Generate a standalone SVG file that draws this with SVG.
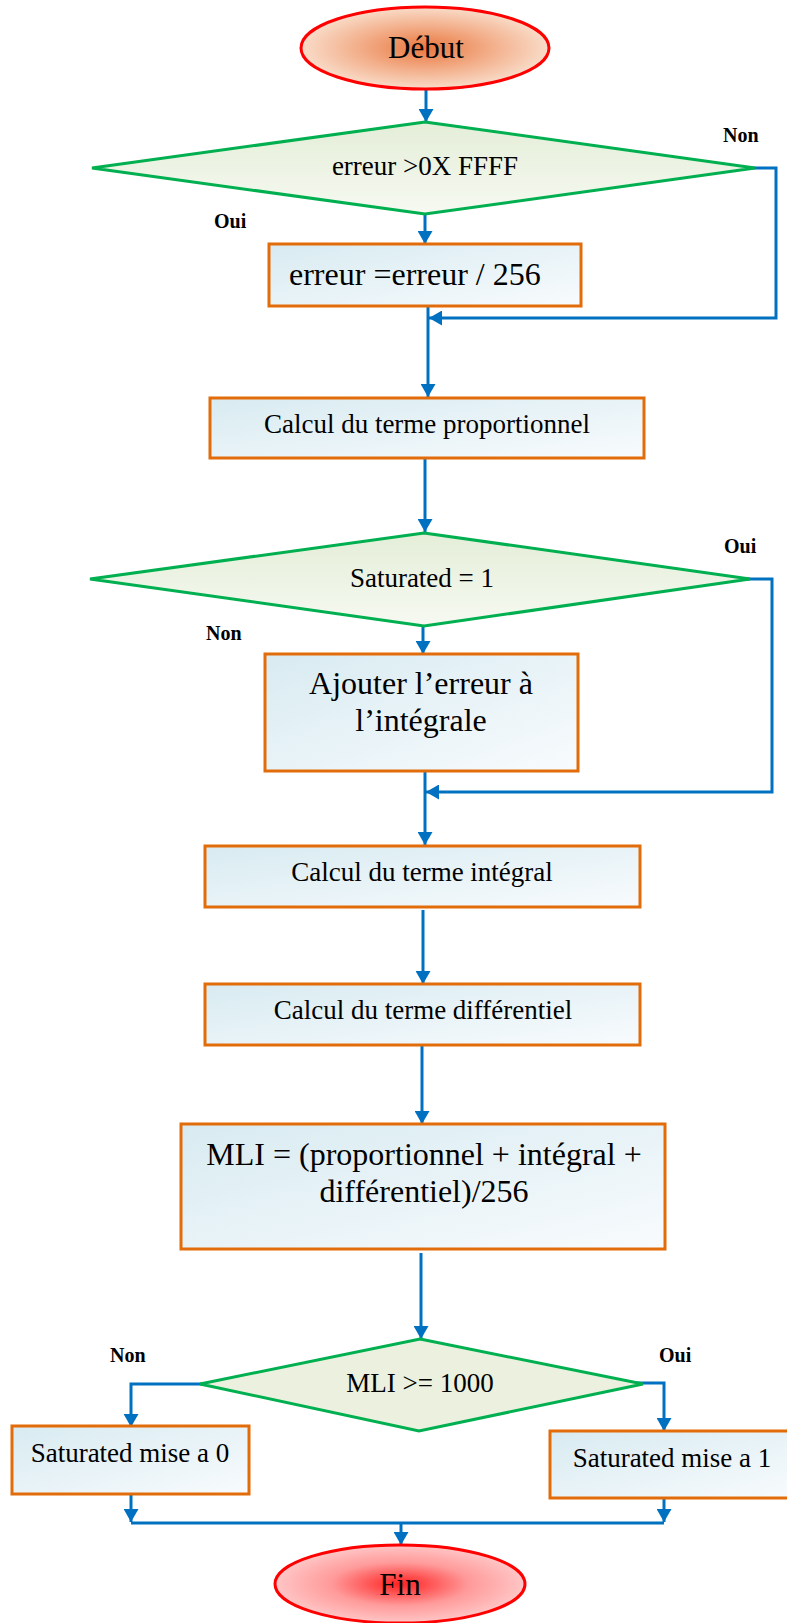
<svg xmlns="http://www.w3.org/2000/svg" width="787" height="1623" viewBox="0 0 787 1623">
  <defs>
    <radialGradient id="gStart" cx="50%" cy="50%" r="50%">
      <stop offset="0" stop-color="#e9773f"/>
      <stop offset="0.55" stop-color="#f3b08c"/>
      <stop offset="1" stop-color="#f9dcc9"/>
    </radialGradient>
    <radialGradient id="gEnd" cx="50%" cy="50%" r="50%">
      <stop offset="0" stop-color="#ff2020"/>
      <stop offset="0.55" stop-color="#ff9a9a"/>
      <stop offset="1" stop-color="#ffc6c6"/>
    </radialGradient>
    <linearGradient id="gBox" x1="0" y1="0" x2="1" y2="1">
      <stop offset="0" stop-color="#d8ebf1"/>
      <stop offset="1" stop-color="#f8fbfd"/>
    </linearGradient>
    <linearGradient id="gDiamond" x1="0" y1="0" x2="0" y2="1">
      <stop offset="0" stop-color="#e4eed8"/>
      <stop offset="1" stop-color="#f6f9f1"/>
    </linearGradient>
    <marker id="arrow" viewBox="0 0 13 15" refX="13" refY="7.5" markerWidth="13" markerHeight="15" orient="auto" markerUnits="userSpaceOnUse">
      <path d="M0,0 L13,7.5 L0,15 z" fill="#0070c0"/>
    </marker>
    <style>
      .term { stroke: #ff0000; stroke-width: 3; }
      .box { fill: url(#gBox); stroke: #e36c0a; stroke-width: 3; }
      .dec { fill: url(#gDiamond); stroke: #00b050; stroke-width: 3; stroke-linejoin: miter; }
      .dec-flat { fill: #ebf1de; stroke: #00b050; stroke-width: 3; }
      .link { fill: none; stroke: #0070c0; stroke-width: 3; }
      .arr { marker-end: url(#arrow); }
      text { font-family: "Liberation Serif", "Times New Roman", serif; fill: #000; }
      .c { text-anchor: middle; }
      .s26 { font-size: 27px; }
      .s32 { font-size: 32px; }
      .lbl { font-size: 20px; font-weight: bold; }
    </style>
  </defs>

  <rect width="787" height="1623" fill="#ffffff"/>

  <!-- connectors -->
  <g id="connectors">
    <path class="link arr" d="M426,89 V122"/>
    <path class="link arr" d="M425,214 V244"/>
    <path class="link arr" d="M730,168 H776 V318 H429"/>
    <path class="link arr" d="M428,306 V397"/>
    <path class="link arr" d="M425,458 V532"/>
    <path class="link arr" d="M423,626 V654"/>
    <path class="link arr" d="M725,579 H772 V792 H426"/>
    <path class="link arr" d="M425,771 V845"/>
    <path class="link arr" d="M423,910 V984"/>
    <path class="link arr" d="M422,1045 V1124"/>
    <path class="link arr" d="M421,1253 V1339"/>
    <path class="link arr" d="M202,1384 H131 V1427"/>
    <path class="link arr" d="M625,1383 H664 V1431"/>
    <path class="link arr" d="M131,1494 V1522"/>
    <path class="link arr" d="M664,1498 V1522"/>
    <path class="link" d="M131,1523 H664"/>
    <path class="link arr" d="M401,1523 V1545"/>
  </g>

  <g id="start">
    <ellipse class="term" cx="425" cy="48" rx="124" ry="41" fill="url(#gStart)"/>
    <text class="c" x="426" y="58" style="font-size:31px">Début</text>
  </g>

  <g id="test-overflow">
    <polygon class="dec" points="425,122 755,168 425,214 92,168"/>
    <text class="c s26" x="425" y="175">erreur &gt;0X FFFF</text>
    <text class="lbl" x="723" y="142">Non</text>
    <text class="lbl" x="214" y="228">Oui</text>
  </g>

  <g id="scale-error">
    <rect class="box" x="269" y="244" width="312" height="62"/>
    <text class="s32" x="289" y="285">erreur =erreur / 256</text>
  </g>

  <g id="proportional">
    <rect class="box" x="210" y="398" width="434" height="60"/>
    <text class="c s26" x="427" y="433">Calcul du terme proportionnel</text>
  </g>

  <g id="test-saturated">
    <polygon class="dec" points="424,533 750,579 424,626 90,579"/>
    <text class="c s26" x="422" y="587">Saturated = 1</text>
    <text class="lbl" x="724" y="553">Oui</text>
    <text class="lbl" x="206" y="640">Non</text>
  </g>

  <g id="accumulate">
    <rect class="box" x="265" y="654" width="313" height="117"/>
    <text class="c s32" x="421" y="694">Ajouter l’erreur à</text>
    <text class="c s32" x="421" y="731">l’intégrale</text>
  </g>

  <g id="integral">
    <rect class="box" x="205" y="846" width="435" height="61"/>
    <text class="c s26" x="422" y="881">Calcul du terme intégral</text>
  </g>

  <g id="derivative">
    <rect class="box" x="205" y="984" width="435" height="61"/>
    <text class="c s26" x="423" y="1019">Calcul du terme différentiel</text>
  </g>

  <g id="pwm">
    <rect class="box" x="181" y="1124" width="484" height="125"/>
    <text class="c s32" x="424" y="1165">MLI = (proportionnel + intégral +</text>
    <text class="c s32" x="424" y="1202">différentiel)/256</text>
  </g>

  <g id="test-pwm">
    <polygon class="dec-flat" points="420,1339 643,1384 419,1431 200,1384"/>
    <text class="c s26" x="420" y="1392">MLI &gt;= 1000</text>
    <text class="lbl" x="110" y="1362">Non</text>
    <text class="lbl" x="659" y="1362">Oui</text>
  </g>

  <g id="clear-saturated">
    <rect class="box" x="12" y="1426" width="237" height="68"/>
    <text class="c s26" x="130" y="1462">Saturated mise a 0</text>
  </g>

  <g id="set-saturated">
    <rect class="box" x="550" y="1431" width="250" height="67"/>
    <text class="c s26" x="672" y="1467">Saturated mise a 1</text>
  </g>

  <g id="end">
    <ellipse class="term" cx="400" cy="1584" rx="125" ry="39" fill="url(#gEnd)"/>
    <text class="c" x="400" y="1595" style="font-size:31px">Fin</text>
  </g>
</svg>
